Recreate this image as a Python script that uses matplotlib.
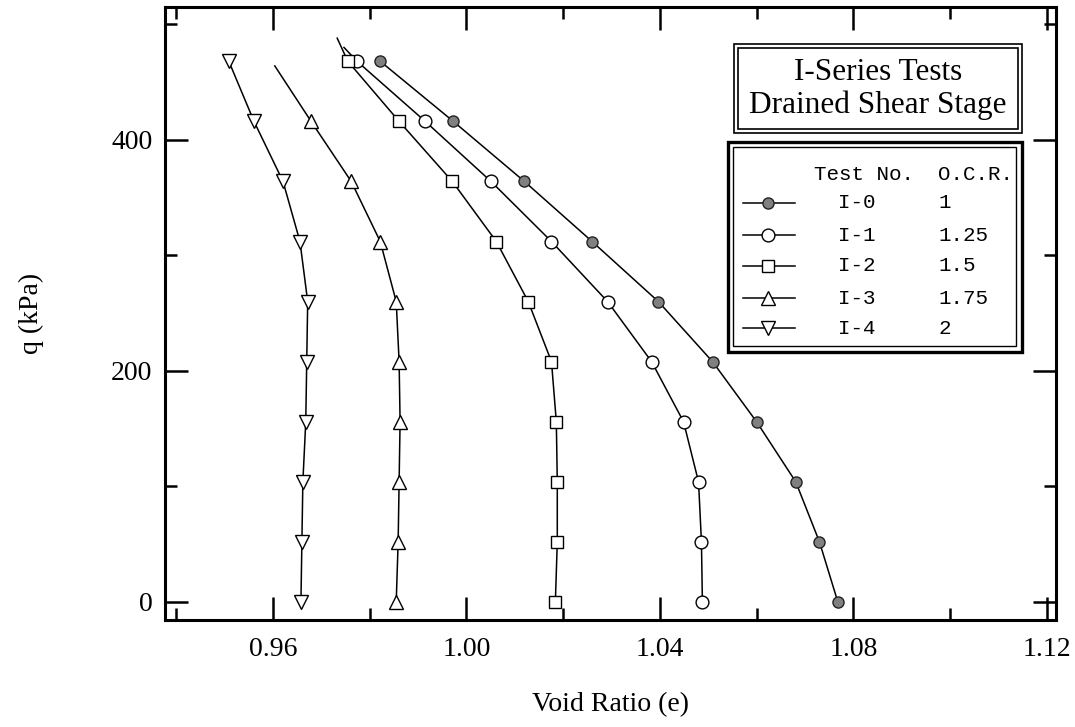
import matplotlib
matplotlib.use("Agg")
import matplotlib.pyplot as plt
from matplotlib.lines import Line2D
from matplotlib.patches import Rectangle
from matplotlib.ticker import MultipleLocator, FixedLocator

# ---------------- data ----------------
q_levels = [0, 52, 104, 156, 208, 260, 312, 364, 416, 468]

e_I0 = [1.0768, 1.0730, 1.0681, 1.0600, 1.0509, 1.0397, 1.0260, 1.0120, 0.9973, 0.9822]
q_I0 = q_levels

e_I1 = [1.0488, 1.0486, 1.0480, 1.0449, 1.0383, 1.0292, 1.0176, 1.0051, 0.9915, 0.9774, 0.9747]
q_I1 = q_levels + [480]

e_I2 = [1.0184, 1.0188, 1.0188, 1.0186, 1.0176, 1.0128, 1.0062, 0.9971, 0.9861, 0.9755, 0.9733]
q_I2 = q_levels + [488]

e_I3 = [0.9855, 0.9859, 0.9861, 0.9863, 0.9861, 0.9855, 0.9822, 0.9762, 0.9679, 0.9604]
q_I3 = q_levels[:9] + [464]

e_I4 = [0.9658, 0.9660, 0.9662, 0.9668, 0.9670, 0.9672, 0.9656, 0.9621, 0.9561, 0.9509]
q_I4 = q_levels

test_no = ["I-0", "I-1", "I-2", "I-3", "I-4"]
ocr = ["1", "1.25", "1.5", "1.75", "2"]

x_ticks = [0.96, 1.00, 1.04, 1.08, 1.12]
x_ticklabels = ["0.96", "1.00", "1.04", "1.08", "1.12"]
y_ticks = [0, 200, 400]
y_ticklabels = ["0", "200", "400"]

title_lines = ["I-Series Tests", "Drained Shear Stage"]

# ---------------- figure ----------------
W, H = 1075, 727
fig = plt.figure(figsize=(W / 100, H / 100), dpi=100)
serif = ["Liberation Serif", "DejaVu Serif"]
mono = ["Liberation Mono", "DejaVu Sans Mono"]
plt.rcParams["font.family"] = serif

L, R, T, B = 165, 1056, 7, 620
ax = fig.add_axes([L / W, 1 - B / H, (R - L) / W, (B - T) / H])

lw = 1.1
ms = 9.2
styles = [
    dict(marker="o", mfc="#808080", mec="#222222", ms=8.0),
    dict(marker="o", mfc="white", mec="black", ms=ms),
    dict(marker="s", mfc="white", mec="black", ms=ms - 0.4),
    dict(marker="^", mfc="white", mec="black", ms=ms + 0.6),
    dict(marker="v", mfc="white", mec="black", ms=ms + 0.6),
]
series = [(e_I0, q_I0), (e_I1, q_I1), (e_I2, q_I2), (e_I3, q_I3), (e_I4, q_I4)]
for (e, q), st in zip(series, styles):
    nmk = min(len(q), len(q_levels))
    if (e, q) == (e_I3, q_I3):
        nmk = 9
    ax.plot(e, q, color="black", lw=lw, markevery=list(range(nmk)),
            mew=1.0, clip_on=False, zorder=3, **st)

ax.set_xlim(0.9377, 1.1219)
ax.set_ylim(-15.6, 515)

ax.xaxis.set_major_locator(FixedLocator(x_ticks))
ax.set_xticklabels(x_ticklabels)
ax.xaxis.set_minor_locator(FixedLocator([0.94, 0.98, 1.02, 1.06, 1.10]))
ax.yaxis.set_major_locator(FixedLocator(y_ticks))
ax.set_yticklabels(y_ticklabels)
ax.yaxis.set_minor_locator(FixedLocator([100, 300, 500]))

ax.tick_params(which="both", direction="in", top=True, right=True, width=1.8, color="black")
ax.tick_params(which="major", length=16.5)
ax.tick_params(which="minor", length=8.6)
ax.tick_params(axis="x", which="major", pad=12, labelsize=20)
ax.tick_params(axis="y", which="major", pad=9, labelsize=20)
for lab in ax.get_xticklabels() + ax.get_yticklabels():
    lab.set_family(serif)
for sp in ax.spines.values():
    sp.set_linewidth(2.2)

ax.set_xlabel("Void Ratio (e)", fontsize=20, labelpad=22, family=serif)
ax.set_ylabel("q (kPa)", fontsize=20, labelpad=48, family=serif)


# ---------------- legend / title boxes (figure pixel coords) ----------------
def fx(px):
    return px / W


def fy(py):
    return 1 - py / H


def rect(x0, y0, x1, y1, lwid, fill=False):
    r = Rectangle((fx(x0), fy(y1)), fx(x1) - fx(x0), fy(y0) - fy(y1),
                  transform=fig.transFigure, fill=fill, facecolor="white",
                  edgecolor="black", lw=lwid, zorder=10)
    fig.add_artist(r)


# title box
rect(734, 44, 1022, 133, 1.2, fill=True)
rect(738, 48, 1018, 129, 1.2)
for txt, py in zip(title_lines, [72, 105]):
    fig.text(fx(878), fy(py), txt, ha="center", va="center", fontsize=22.5,
             family=serif, zorder=11)

# legend box
rect(727.5, 141.5, 1021.5, 351.5, 2.4, fill=True)
rect(733, 147, 1016, 346, 1.0)
fig.text(fx(814), fy(175), "Test No.", ha="left", va="center", fontsize=15,
         family=mono, zorder=11)
fig.text(fx(938), fy(175), "O.C.R.", ha="left", va="center", fontsize=15,
         family=mono, zorder=11)
row_y = [203, 235, 266, 298, 328]
for st, tn, oc, py in zip(styles, test_no, ocr, row_y):
    ln = Line2D([fx(743), fx(768), fx(795)], [fy(py)] * 3, transform=fig.transFigure,
                color="black", lw=lw, markevery=[1], mew=1.0, zorder=11, **st)
    fig.add_artist(ln)
    fig.text(fx(857), fy(py), tn, ha="center", va="center", fontsize=15,
             family=mono, zorder=11)
    fig.text(fx(938), fy(py), oc, ha="left", va="center", fontsize=15,
             family=mono, zorder=11)

fig.savefig("out.png", dpi=100)
